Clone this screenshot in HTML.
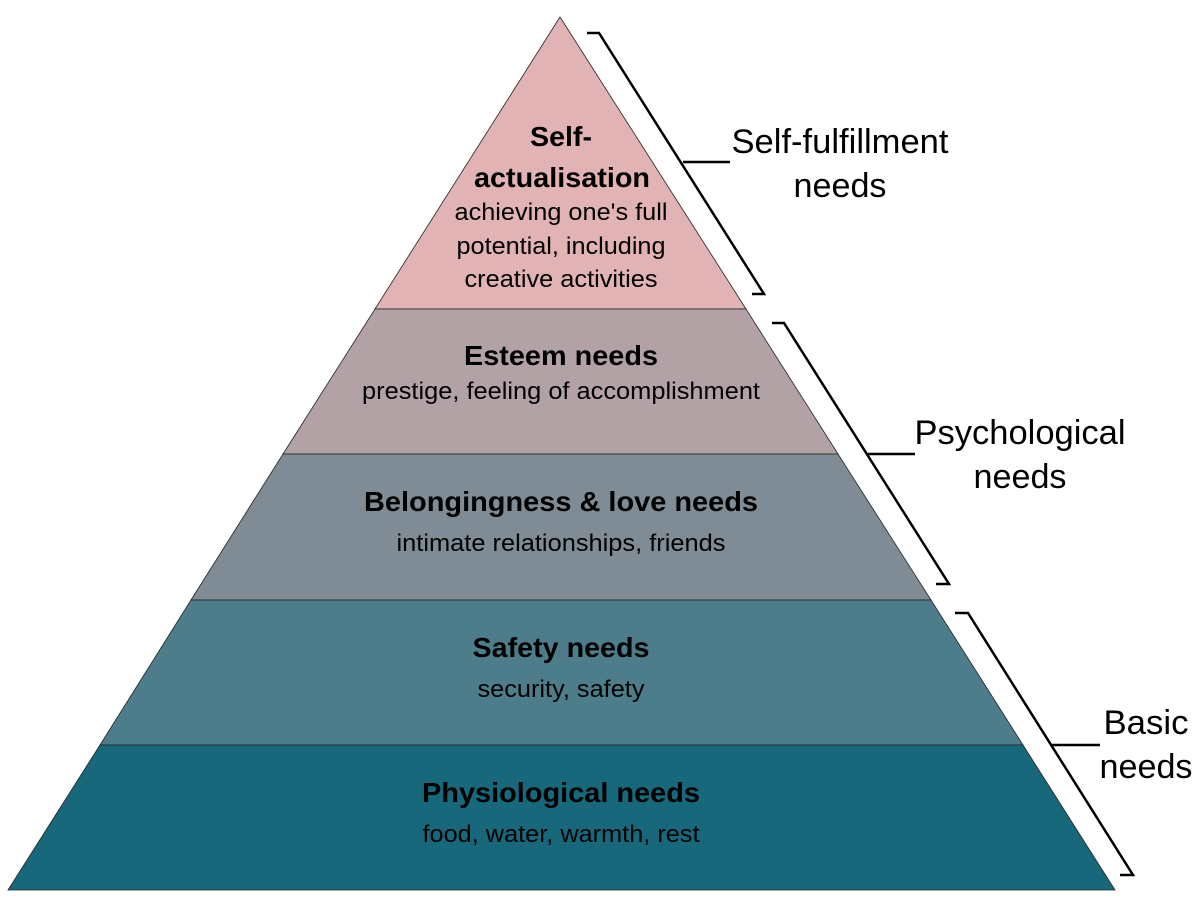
<!DOCTYPE html>
<html><head><meta charset="utf-8"><style>html,body{margin:0;padding:0;background:#fff}svg{display:block}</style></head>
<body>
<svg width="1200" height="909" viewBox="0 0 1200 909" xmlns="http://www.w3.org/2000/svg" font-family="Liberation Sans, Arial, sans-serif">
<polygon points="560,17 375,309 746,309" fill="#e1b3b4" stroke="#222" stroke-width="0.8"/>
<polygon points="375,309 746,309 838,454 283,454" fill="#b3a2a5" stroke="#222" stroke-width="0.8"/>
<polygon points="283,454 838,454 931,600 191,600" fill="#7f8c95" stroke="#222" stroke-width="0.8"/>
<polygon points="191,600 931,600 1023,745 100,745" fill="#4d7d8a" stroke="#222" stroke-width="0.8"/>
<polygon points="100,745 1023,745 1115,890 8,890" fill="#18687b" stroke="#222" stroke-width="0.8"/>
<g fill="none" stroke="#000" stroke-width="2.5">
<polyline points="587,33 599,33 764,294 752,294"/>
<line x1="683" y1="162" x2="730" y2="162"/>
<polyline points="772,323 784,323 949,584 936,584"/>
<line x1="868" y1="454" x2="915" y2="454"/>
<polyline points="955,613 968,613 1133,875 1120,875"/>
<line x1="1052" y1="745" x2="1100" y2="745"/>
</g>
<g text-anchor="middle" fill="#000" lengthAdjust="spacingAndGlyphs">
<text x="561" y="146" font-size="28" font-weight="bold" textLength="62" lengthAdjust="spacingAndGlyphs">Self-</text>
<text x="562" y="187" font-size="28" font-weight="bold" textLength="176" lengthAdjust="spacingAndGlyphs">actualisation</text>
<text x="561" y="220" font-size="24" textLength="213" lengthAdjust="spacingAndGlyphs">achieving one's full</text>
<text x="561" y="254" font-size="24" textLength="209" lengthAdjust="spacingAndGlyphs">potential, including</text>
<text x="561" y="287" font-size="24" textLength="193" lengthAdjust="spacingAndGlyphs">creative activities</text>
<text x="561" y="365" font-size="28" font-weight="bold" textLength="194" lengthAdjust="spacingAndGlyphs">Esteem needs</text>
<text x="561" y="399" font-size="24" textLength="398" lengthAdjust="spacingAndGlyphs">prestige, feeling of accomplishment</text>
<text x="561" y="511" font-size="28" font-weight="bold" textLength="394" lengthAdjust="spacingAndGlyphs">Belongingness &amp; love needs</text>
<text x="561" y="551" font-size="24" textLength="329" lengthAdjust="spacingAndGlyphs">intimate relationships, friends</text>
<text x="561" y="657" font-size="28" font-weight="bold" textLength="177" lengthAdjust="spacingAndGlyphs">Safety needs</text>
<text x="561" y="697" font-size="24" textLength="167" lengthAdjust="spacingAndGlyphs">security, safety</text>
<text x="561" y="802" font-size="28" font-weight="bold" textLength="278" lengthAdjust="spacingAndGlyphs">Physiological needs</text>
<text x="561" y="842" font-size="24" textLength="277" lengthAdjust="spacingAndGlyphs">food, water, warmth, rest</text>
<text x="840" y="153" font-size="34" textLength="217" lengthAdjust="spacingAndGlyphs">Self-fulfillment</text>
<text x="840" y="197" font-size="34" textLength="93" lengthAdjust="spacingAndGlyphs">needs</text>
<text x="1020" y="444" font-size="34" textLength="211" lengthAdjust="spacingAndGlyphs">Psychological</text>
<text x="1020" y="488" font-size="34" textLength="93" lengthAdjust="spacingAndGlyphs">needs</text>
<text x="1146" y="734" font-size="34" textLength="85" lengthAdjust="spacingAndGlyphs">Basic</text>
<text x="1146" y="778" font-size="34" textLength="93" lengthAdjust="spacingAndGlyphs">needs</text>
</g>
</svg>
</body></html>
